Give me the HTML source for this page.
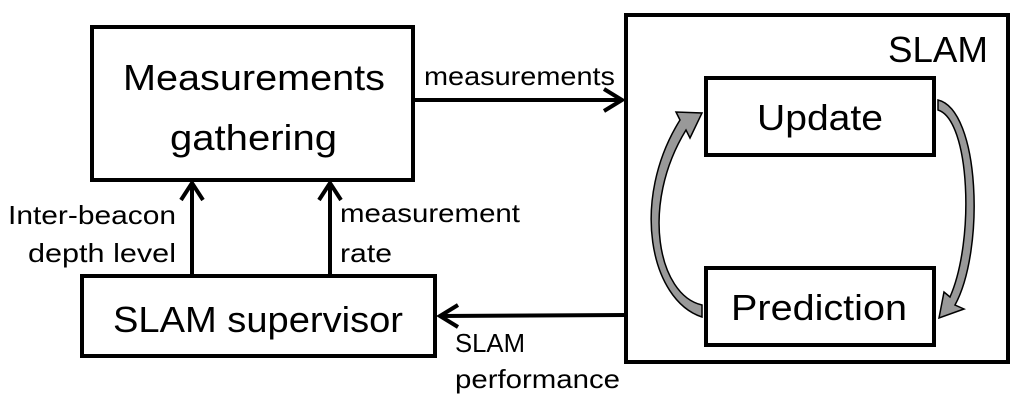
<!DOCTYPE html>
<html><head><style>
body{margin:0;background:#fff;width:1024px;height:403px;overflow:hidden}
svg text{font-family:"Liberation Sans",sans-serif;fill:#000}
</style></head><body>
<svg width="1024" height="403" viewBox="0 0 1024 403">
<g fill="none" stroke="#000" stroke-width="4">
<rect x="92" y="27" width="321" height="153"/>
<rect x="82" y="276" width="353" height="80"/>
<rect x="626" y="15" width="382" height="347"/>
<rect x="706" y="78" width="228" height="77"/>
<rect x="706" y="268" width="228" height="77"/>
<line x1="413" y1="100" x2="622" y2="100"/>
<polyline points="604,89 622,100 604,111"/>
<line x1="192" y1="276" x2="192" y2="184"/>
<polyline points="181,200 192,183 203,200"/>
<line x1="330" y1="276" x2="330" y2="184"/>
<polyline points="319,200 330,183 341,200"/>
<line x1="626" y1="315" x2="440" y2="316"/>
<polyline points="458,305 440,316 458,327"/>
</g>
<g stroke="#000" stroke-width="1.5">
<path d="M702,317 C650,300 630,200 680,120 L676,112 L702,113 L690,138 L686,130 C640,205 658,295 702,305 Z" fill="#999"/>
<path d="M938,100 C980,110 985,250 955,305 L964,309 L939,318 L944,292 L950,297 C975,240 970,120 938,110 Z" fill="#999"/>
</g>
<g font-size="36">
<text x="123" y="90" textLength="262" lengthAdjust="spacingAndGlyphs">Measurements</text>
<text x="170" y="150" textLength="167" lengthAdjust="spacingAndGlyphs">gathering</text>
<text x="113" y="332" textLength="290" lengthAdjust="spacingAndGlyphs">SLAM supervisor</text>
<text x="757" y="130" textLength="126" lengthAdjust="spacingAndGlyphs">Update</text>
<text x="731" y="320" textLength="176" lengthAdjust="spacingAndGlyphs">Prediction</text>
<text x="888" y="62" textLength="100" lengthAdjust="spacingAndGlyphs">SLAM</text>
</g>
<g font-size="26">
<text x="424" y="85" textLength="191" lengthAdjust="spacingAndGlyphs">measurements</text>
<text x="8" y="224" textLength="168" lengthAdjust="spacingAndGlyphs">Inter-beacon</text>
<text x="28" y="262" textLength="148" lengthAdjust="spacingAndGlyphs">depth level</text>
<text x="340" y="222" textLength="180" lengthAdjust="spacingAndGlyphs">measurement</text>
<text x="340" y="262" textLength="52" lengthAdjust="spacingAndGlyphs">rate</text>
<text x="455" y="352" textLength="70" lengthAdjust="spacingAndGlyphs">SLAM</text>
<text x="455" y="388" textLength="165" lengthAdjust="spacingAndGlyphs">performance</text>
</g>
</svg>
</body></html>
